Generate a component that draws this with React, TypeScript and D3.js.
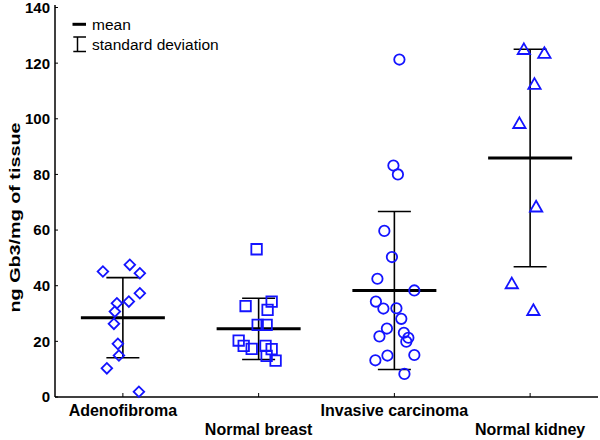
import React from "react";
import { scaleLinear, scalePoint, symbol, symbolSquare, symbolTriangle, symbolCircle } from "d3";

const categories = ["Adenofibroma", "Normal breast", "Invasive carcinoma", "Normal kidney"];

const adenofibroma = [45.1, 47.5, 44.5, 37.3, 33.7, 34.3, 30.7, 26.3, 19.1, 14.9, 10.3, 1.9];
const adenofibromaJitter = [-0.147, 0.051, 0.125, 0.125, -0.044, 0.044, -0.059, -0.066, -0.037, -0.029, -0.118, 0.118];

const normalBreast = [53.1, 34.3, 32.7, 31.3, 25.9, 25.9, 20.3, 18.4, 17.3, 18.4, 17.2, 14.8, 13.1];
const normalBreastJitter = [-0.015, 0.096, -0.096, 0.066, -0.007, 0.059, -0.147, -0.11, -0.051, 0.051, 0.096, 0.059, 0.125];

const invasive = [121.3, 83.2, 80.0, 59.7, 50.3, 42.5, 38.3, 34.3, 31.8, 31.9, 28.1, 24.6, 21.8, 23.1, 21.3, 19.9, 15.1, 14.9, 13.2, 8.3];
const invasiveJitter = [0.037, -0.007, 0.026, -0.074, -0.018, -0.125, 0.147, -0.136, -0.081, 0.015, 0.051, -0.055, -0.11, 0.07, 0.103, 0.088, 0.147, -0.051, -0.14, 0.074];

const kidney = [125.1, 123.7, 112.6, 98.5, 68.5, 40.9, 31.3];
const kidneyJitter = [-0.046, 0.105, 0.032, -0.079, 0.044, -0.135, 0.024];

const means = [28.5, 24.5, 38.3, 85.9];
const sds = [14.4, 11.0, 28.4, 39.1];

const yTicks = [0, 20, 40, 60, 80, 100, 120, 140];

const groups = [
  { values: adenofibroma, jitter: adenofibromaJitter },
  { values: normalBreast, jitter: normalBreastJitter },
  { values: invasive, jitter: invasiveJitter },
  { values: kidney, jitter: kidneyJitter },
];

const width = 600;
const height = 440;
const left = 55;
const right = 598;
const bottom = 397;
const top = 7.5;

const blue = "#1414ff";
const font = "Arial, 'Liberation Sans', sans-serif";

// diamond = square turned 45 degrees
const shapes = [
  { d: symbol(symbolSquare, 56)(), rot: 45, dy: 0 },
  { d: symbol(symbolSquare, 110)(), rot: 0, dy: 0 },
  { d: symbol(symbolCircle, 85)(), rot: 0, dy: 0 },
  { d: symbol(symbolTriangle, 66)(), rot: 0, dy: 1.5 },
];

export default function App() {
  const x = scalePoint<string>().domain(categories).range([left, right]).padding(0.5);
  const y = scaleLinear().domain([0, 140]).range([bottom, top]);
  const step = x.step();
  const meanHalf = 42;
  const capHalf = 16.5;

  return (
    <svg width={width} height={height} style={{ position: "absolute", left: 0, top: 0, background: "#fff" }}>
      {/* axes */}
      <line x1={left} x2={left} y1={5} y2={bottom} stroke="#000" strokeWidth={1.5} />
      <line x1={left} x2={right} y1={bottom} y2={bottom} stroke="#000" strokeWidth={1.5} />
      {yTicks.map((t) => (
        <g key={t}>
          <line x1={left} x2={left + 3} y1={y(t)} y2={y(t)} stroke="#000" strokeWidth={1} />
          <text x={left - 5} y={y(t)} dy="0.36em" textAnchor="end" fontFamily={font} fontWeight="bold" fontSize={15}>
            {t}
          </text>
        </g>
      ))}
      {categories.map((c, i) => (
        <g key={c}>
          <line x1={x(c)} x2={x(c)} y1={bottom} y2={bottom - 4} stroke="#000" strokeWidth={1} />
          <text x={x(c)} y={i % 2 === 0 ? 416 : 435} textAnchor="middle" fontFamily={font} fontWeight="bold" fontSize={16}>
            {c}
          </text>
        </g>
      ))}
      <text
        transform={`translate(20,${(122 + 313) / 2}) rotate(-90)`}
        textAnchor="middle"
        fontFamily={font}
        fontWeight="bold"
        fontSize={14.5}
        textLength={190}
        lengthAdjust="spacingAndGlyphs"
      >
        ng Gb3/mg of tissue
      </text>

      {/* mean and sd */}
      {categories.map((c, i) => {
        const cx = x(c) as number;
        const hi = y(means[i] + sds[i]);
        const lo = y(means[i] - sds[i]);
        return (
          <g key={c} stroke="#000">
            <line x1={cx} x2={cx} y1={hi} y2={lo} strokeWidth={1.6} />
            <line x1={cx - capHalf} x2={cx + capHalf} y1={hi} y2={hi} strokeWidth={1.6} />
            <line x1={cx - capHalf} x2={cx + capHalf} y1={lo} y2={lo} strokeWidth={1.6} />
            <line x1={cx - meanHalf} x2={cx + meanHalf} y1={y(means[i])} y2={y(means[i])} strokeWidth={3} />
          </g>
        );
      })}

      {/* points */}
      {groups.map((g, i) => {
        const cx = x(categories[i]) as number;
        const s = shapes[i];
        return g.values.map((v, j) => (
          <path
            key={`${i}-${j}`}
            d={s.d as string}
            transform={`translate(${cx + g.jitter[j] * step},${y(v) + s.dy}) rotate(${s.rot})`}
            fill="none"
            stroke={blue}
            strokeWidth={1.8}
          />
        ));
      })}

      {/* legend */}
      <line x1={72.5} x2={86} y1={24.3} y2={24.3} stroke="#000" strokeWidth={3} />
      <text x={92} y={30} fontFamily={font} fontSize={15.5}>mean</text>
      <line x1={77.5} x2={77.5} y1={37} y2={51.5} stroke="#000" strokeWidth={1.5} />
      <line x1={73.3} x2={86} y1={37} y2={37} stroke="#000" strokeWidth={1.5} />
      <line x1={73.3} x2={86} y1={51.5} y2={51.5} stroke="#000" strokeWidth={1.5} />
      <text x={92} y={49.5} fontFamily={font} fontSize={15.5}>standard deviation</text>
    </svg>
  );
}
